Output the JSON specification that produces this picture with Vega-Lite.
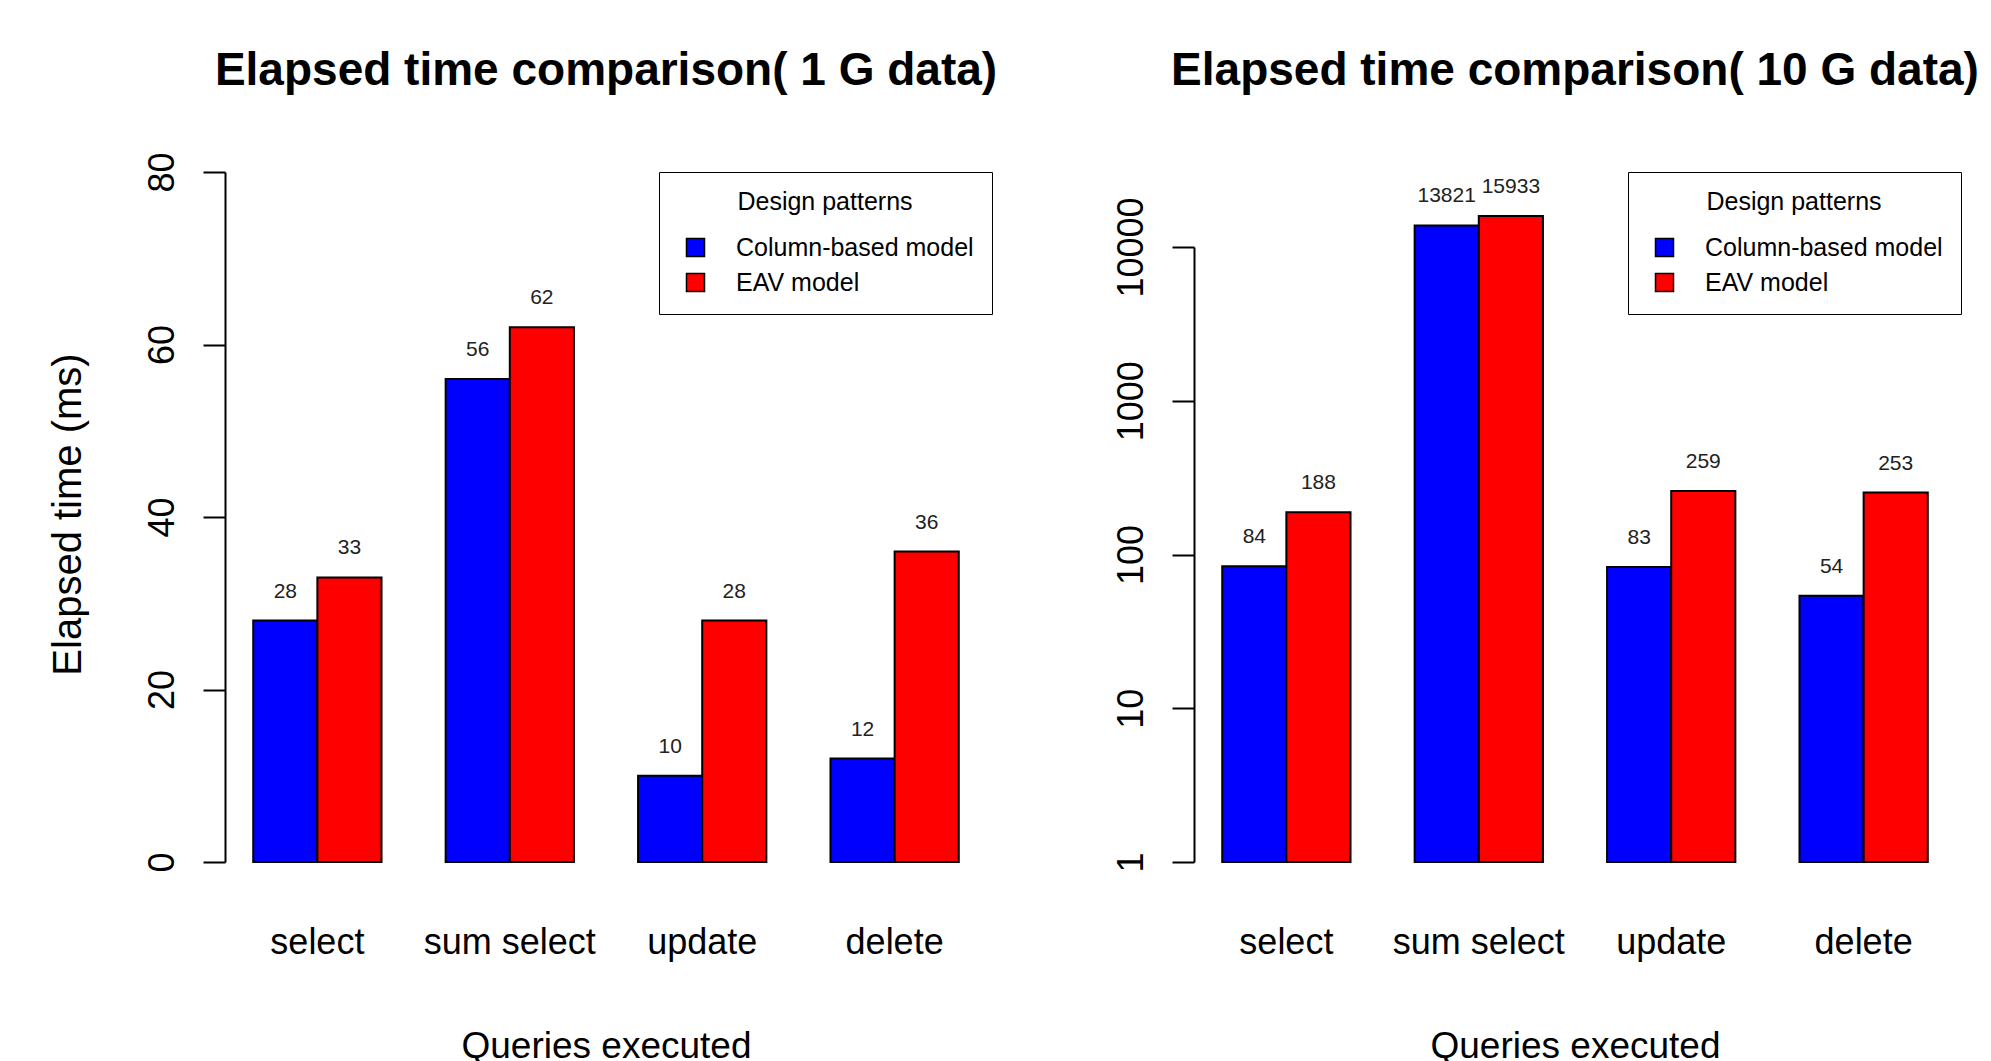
{
  "$schema": "https://vega.github.io/schema/vega-lite/v6.json",
  "padding": {"left": 48, "top": 47, "right": 0, "bottom": 0},
  "background": "white",
  "bounds": "flush",
  "spacing": 207,
  "config": {
    "font": "Liberation Sans",
    "view": {"stroke": null},
    "title": {"fontSize": 46, "fontWeight": "bold", "color": "black", "baseline": "alphabetic", "anchor": "middle", "font": "Liberation Sans"},
    "axis": {"labelFont": "Liberation Sans", "titleFont": "Liberation Sans", "labelColor": "black", "titleColor": "black", "labelFontSize": 36, "titleFontWeight": "normal", "domainColor": "black", "tickColor": "black", "domainWidth": 2, "tickWidth": 2, "grid": false},
    "legend": {"labelFont": "Liberation Sans", "titleFont": "Liberation Sans"}
  },
  "datasets": {
    "g1": [
      {"query": "select", "model": "Column-based model", "time": 28},
      {"query": "select", "model": "EAV model", "time": 33},
      {"query": "sum select", "model": "Column-based model", "time": 56},
      {"query": "sum select", "model": "EAV model", "time": 62},
      {"query": "update", "model": "Column-based model", "time": 10},
      {"query": "update", "model": "EAV model", "time": 28},
      {"query": "delete", "model": "Column-based model", "time": 12},
      {"query": "delete", "model": "EAV model", "time": 36}
    ],
    "g10": [
      {"query": "select", "model": "Column-based model", "time": 84},
      {"query": "select", "model": "EAV model", "time": 188},
      {"query": "sum select", "model": "Column-based model", "time": 13821},
      {"query": "sum select", "model": "EAV model", "time": 15933},
      {"query": "update", "model": "Column-based model", "time": 83},
      {"query": "update", "model": "EAV model", "time": 259},
      {"query": "delete", "model": "Column-based model", "time": 54},
      {"query": "delete", "model": "EAV model", "time": 253}
    ]
  },
  "resolve": {"scale": {"color": "independent", "y": "independent"}, "legend": {"color": "independent"}},
  "hconcat": [
    {
      "title": {"text": "Elapsed time comparison( 1 G data)", "offset": 57},
      "width": 762,
      "height": 690,
      "data": {"name": "g1"},
      "encoding": {
        "x": {"field": "query", "type": "nominal", "sort": null, "title": "Queries executed",
          "scale": {"paddingInner": 0.3333, "paddingOuter": 0.1467},
          "axis": {"domain": false, "ticks": false, "tickSize": 0, "labelPadding": 91, "labelBaseline": "alphabetic", "labelAngle": 0, "titleFontSize": 37, "titleX": 381, "titleY": 195, "titleBaseline": "alphabetic", "titleAlign": "center"}},
        "xOffset": {"field": "model", "type": "nominal", "sort": null, "scale": {"paddingInner": 0, "paddingOuter": 0}},
        "y": {"field": "time", "type": "quantitative", "title": "Elapsed time (ms)",
          "scale": {"domain": [0, 80], "nice": false},
          "axis": {"values": [0, 20, 40, 60, 80], "tickSize": 22, "labelPadding": 30, "labelAngle": -90, "labelAlign": "center", "labelBaseline": "alphabetic", "titleFontSize": 40, "titleAngle": -90, "titleX": -145, "titleY": 342, "titleAlign": "center", "titleBaseline": "alphabetic"}}
      },
      "layer": [
        {
          "mark": {"type": "bar", "stroke": "black", "strokeWidth": 2},
          "encoding": {
            "color": {"field": "model", "type": "nominal",
              "scale": {"domain": ["Column-based model", "EAV model"], "range": ["#0000ff", "#ff0000"]},
              "legend": {"orient": "none", "legendX": 434, "legendY": 0, "title": "Design patterns", "titleAnchor": "middle", "titleAlign": "center", "titleFontSize": 25, "titleFontWeight": "normal", "titleColor": "black", "labelFontSize": 25, "labelColor": "black", "labelLimit": 500, "padding": 18, "strokeColor": "black", "symbolType": "square", "symbolSize": 324, "symbolOffset": 6, "symbolStrokeColor": "black", "symbolStrokeWidth": 1.5, "labelOffset": 28, "rowPadding": 9, "titlePadding": 20, "labelExpr": "datum.value == 'EAV model' ? '\u2009EAV model' : datum.label"}
            }
          }
        },
        {
          "mark": {"type": "text", "baseline": "alphabetic", "dy": -23, "font": "Liberation Sans", "fontSize": 21, "color": "#222222"},
          "encoding": {"text": {"field": "time", "type": "quantitative"}}
        }
      ]
    },
    {
      "title": {"text": "Elapsed time comparison( 10 G data)", "offset": 77},
      "width": 762,
      "height": 690,
      "data": {"name": "g10"},
      "encoding": {
        "x": {"field": "query", "type": "nominal", "sort": null, "title": "Queries executed",
          "scale": {"paddingInner": 0.3333, "paddingOuter": 0.1467},
          "axis": {"domain": false, "ticks": false, "tickSize": 0, "labelPadding": 91, "labelBaseline": "alphabetic", "labelAngle": 0, "titleFontSize": 37, "titleX": 381, "titleY": 195, "titleBaseline": "alphabetic", "titleAlign": "center"}},
        "xOffset": {"field": "model", "type": "nominal", "sort": null, "scale": {"paddingInner": 0, "paddingOuter": 0}},
        "y": {"field": "time", "type": "quantitative", "title": null,
          "scale": {"type": "log", "domain": [1, 10000], "range": [690, 75], "nice": false},
          "axis": {"values": [1, 10, 100, 1000, 10000], "format": "d", "tickSize": 22, "labelPadding": 30, "labelAngle": -90, "labelAlign": "center", "labelBaseline": "alphabetic"}}
      },
      "layer": [
        {
          "mark": {"type": "bar", "stroke": "black", "strokeWidth": 2},
          "encoding": {
            "y2": {"datum": 1},
            "color": {"field": "model", "type": "nominal",
              "scale": {"domain": ["Column-based model", "EAV model"], "range": ["#0000ff", "#ff0000"]},
              "legend": {"orient": "none", "legendX": 434, "legendY": 0, "title": "Design patterns", "titleAnchor": "middle", "titleAlign": "center", "titleFontSize": 25, "titleFontWeight": "normal", "titleColor": "black", "labelFontSize": 25, "labelColor": "black", "labelLimit": 500, "padding": 18, "strokeColor": "black", "symbolType": "square", "symbolSize": 324, "symbolOffset": 6, "symbolStrokeColor": "black", "symbolStrokeWidth": 1.5, "labelOffset": 28, "rowPadding": 9, "titlePadding": 20, "labelExpr": "datum.value == 'EAV model' ? '\u2009EAV model' : datum.label"}
            }
          }
        },
        {
          "mark": {"type": "text", "baseline": "alphabetic", "dy": -23, "font": "Liberation Sans", "fontSize": 21, "color": "#222222"},
          "encoding": {"text": {"field": "time", "type": "quantitative", "format": "d"}}
        }
      ]
    }
  ]
}
